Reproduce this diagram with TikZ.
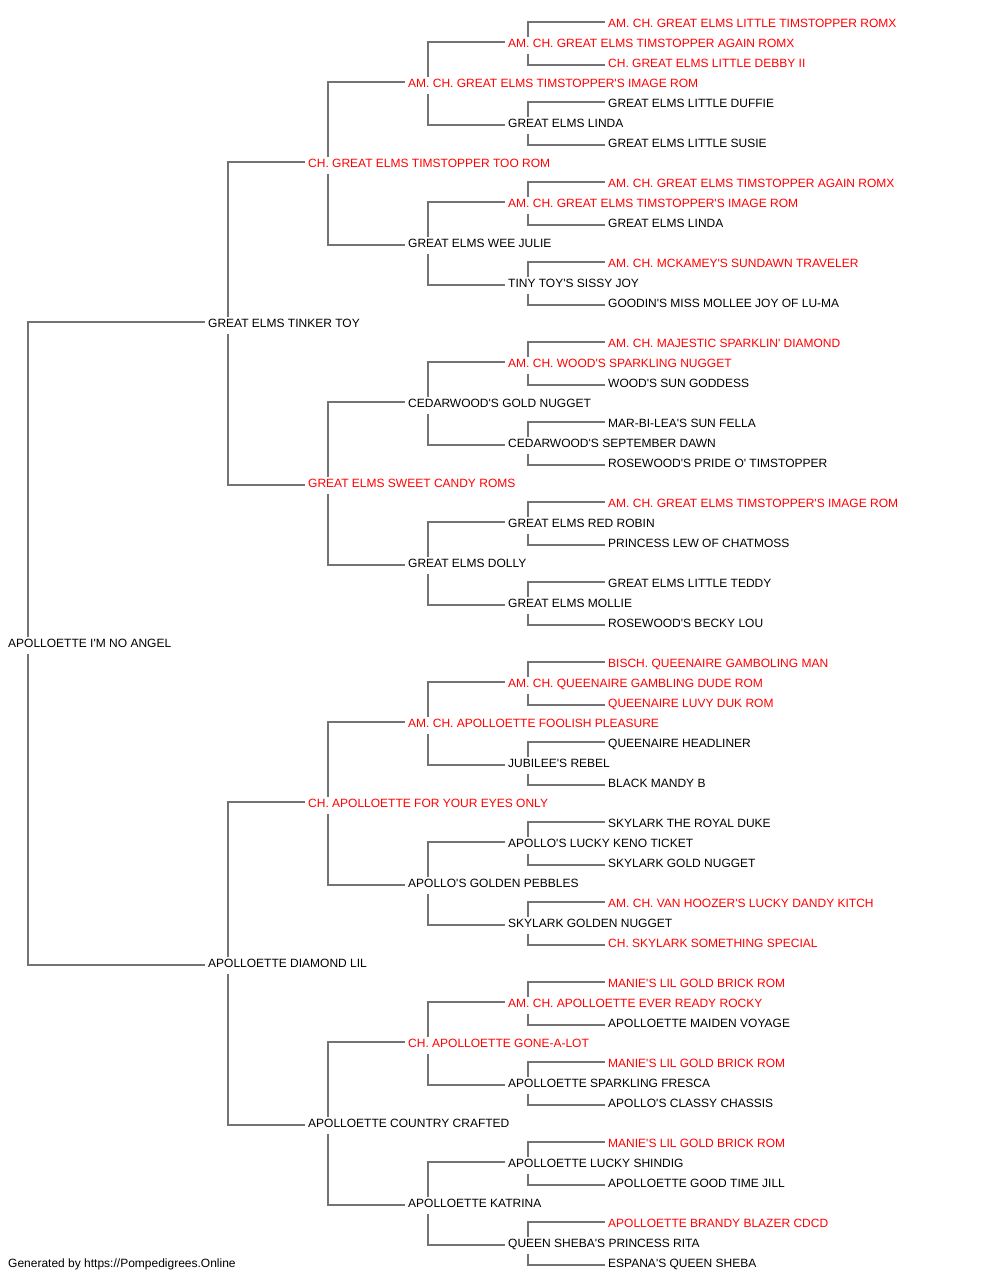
\documentclass[tikz,border=0pt]{standalone}
\usepackage{fontspec}
\setmainfont{Liberation Sans}[Ligatures=TeXOff]
\usetikzlibrary{backgrounds}
\definecolor{linegray}{HTML}{737373}
\definecolor{champ}{HTML}{FF0000}
\definecolor{plain}{HTML}{000000}
\tikzset{
  dog/.style={anchor=base west, inner xsep=3pt, inner ysep=2pt, text height=9pt, text depth=4pt, fill=white, text=plain, font=\fontsize{12pt}{14pt}\selectfont},
  red/.style={dog, text=champ},
  conn/.style={draw=linegray, line width=1.6pt},
}
\begin{document}
\begin{tikzpicture}[x=1pt, y=-1pt]
\useasboundingbox (0,0) rectangle (1000,1280);
% generation x (text start - 3): 5, 205, 305, 405, 505, 605 ; y = 27.6 + 20k
\node[red] (n0) at (605,27.6) {AM. CH. GREAT ELMS LITTLE TIMSTOPPER ROMX};
\node[red] (n1) at (505,47.6) {AM. CH. GREAT ELMS TIMSTOPPER AGAIN ROMX};
\node[red] (n2) at (605,67.6) {CH. GREAT ELMS LITTLE DEBBY II};
\node[red] (n3) at (405,87.6) {AM. CH. GREAT ELMS TIMSTOPPER'S IMAGE ROM};
\node[dog] (n4) at (605,107.6) {GREAT ELMS LITTLE DUFFIE};
\node[dog] (n5) at (505,127.6) {GREAT ELMS LINDA};
\node[dog] (n6) at (605,147.6) {GREAT ELMS LITTLE SUSIE};
\node[red] (n7) at (305,167.6) {CH. GREAT ELMS TIMSTOPPER TOO ROM};
\node[red] (n8) at (605,187.6) {AM. CH. GREAT ELMS TIMSTOPPER AGAIN ROMX};
\node[red] (n9) at (505,207.6) {AM. CH. GREAT ELMS TIMSTOPPER'S IMAGE ROM};
\node[dog] (n10) at (605,227.6) {GREAT ELMS LINDA};
\node[dog] (n11) at (405,247.6) {GREAT ELMS WEE JULIE};
\node[red] (n12) at (605,267.6) {AM. CH. MCKAMEY'S SUNDAWN TRAVELER};
\node[dog] (n13) at (505,287.6) {TINY TOY'S SISSY JOY};
\node[dog] (n14) at (605,307.6) {GOODIN'S MISS MOLLEE JOY OF LU-MA};
\node[dog] (n15) at (205,327.6) {GREAT ELMS TINKER TOY};
\node[red] (n16) at (605,347.6) {AM. CH. MAJESTIC SPARKLIN' DIAMOND};
\node[red] (n17) at (505,367.6) {AM. CH. WOOD'S SPARKLING NUGGET};
\node[dog] (n18) at (605,387.6) {WOOD'S SUN GODDESS};
\node[dog] (n19) at (405,407.6) {CEDARWOOD'S GOLD NUGGET};
\node[dog] (n20) at (605,427.6) {MAR-BI-LEA'S SUN FELLA};
\node[dog] (n21) at (505,447.6) {CEDARWOOD'S SEPTEMBER DAWN};
\node[dog] (n22) at (605,467.6) {ROSEWOOD'S PRIDE O' TIMSTOPPER};
\node[red] (n23) at (305,487.6) {GREAT ELMS SWEET CANDY ROMS};
\node[red] (n24) at (605,507.6) {AM. CH. GREAT ELMS TIMSTOPPER'S IMAGE ROM};
\node[dog] (n25) at (505,527.6) {GREAT ELMS RED ROBIN};
\node[dog] (n26) at (605,547.6) {PRINCESS LEW OF CHATMOSS};
\node[dog] (n27) at (405,567.6) {GREAT ELMS DOLLY};
\node[dog] (n28) at (605,587.6) {GREAT ELMS LITTLE TEDDY};
\node[dog] (n29) at (505,607.6) {GREAT ELMS MOLLIE};
\node[dog] (n30) at (605,627.6) {ROSEWOOD'S BECKY LOU};
\node[dog] (n31) at (5,647.6) {APOLLOETTE I'M NO ANGEL};
\node[red] (n32) at (605,667.6) {BISCH. QUEENAIRE GAMBOLING MAN};
\node[red] (n33) at (505,687.6) {AM. CH. QUEENAIRE GAMBLING DUDE ROM};
\node[red] (n34) at (605,707.6) {QUEENAIRE LUVY DUK ROM};
\node[red] (n35) at (405,727.6) {AM. CH. APOLLOETTE FOOLISH PLEASURE};
\node[dog] (n36) at (605,747.6) {QUEENAIRE HEADLINER};
\node[dog] (n37) at (505,767.6) {JUBILEE'S REBEL};
\node[dog] (n38) at (605,787.6) {BLACK MANDY B};
\node[red] (n39) at (305,807.6) {CH. APOLLOETTE FOR YOUR EYES ONLY};
\node[dog] (n40) at (605,827.6) {SKYLARK THE ROYAL DUKE};
\node[dog] (n41) at (505,847.6) {APOLLO'S LUCKY KENO TICKET};
\node[dog] (n42) at (605,867.6) {SKYLARK GOLD NUGGET};
\node[dog] (n43) at (405,887.6) {APOLLO'S GOLDEN PEBBLES};
\node[red] (n44) at (605,907.6) {AM. CH. VAN HOOZER'S LUCKY DANDY KITCH};
\node[dog] (n45) at (505,927.6) {SKYLARK GOLDEN NUGGET};
\node[red] (n46) at (605,947.6) {CH. SKYLARK SOMETHING SPECIAL};
\node[dog] (n47) at (205,967.6) {APOLLOETTE DIAMOND LIL};
\node[red] (n48) at (605,987.6) {MANIE'S LIL GOLD BRICK ROM};
\node[red] (n49) at (505,1007.6) {AM. CH. APOLLOETTE EVER READY ROCKY};
\node[dog] (n50) at (605,1027.6) {APOLLOETTE MAIDEN VOYAGE};
\node[red] (n51) at (405,1047.6) {CH. APOLLOETTE GONE-A-LOT};
\node[red] (n52) at (605,1067.6) {MANIE'S LIL GOLD BRICK ROM};
\node[dog] (n53) at (505,1087.6) {APOLLOETTE SPARKLING FRESCA};
\node[dog] (n54) at (605,1107.6) {APOLLO'S CLASSY CHASSIS};
\node[dog] (n55) at (305,1127.6) {APOLLOETTE COUNTRY CRAFTED};
\node[red] (n56) at (605,1147.6) {MANIE'S LIL GOLD BRICK ROM};
\node[dog] (n57) at (505,1167.6) {APOLLOETTE LUCKY SHINDIG};
\node[dog] (n58) at (605,1187.6) {APOLLOETTE GOOD TIME JILL};
\node[dog] (n59) at (405,1207.6) {APOLLOETTE KATRINA};
\node[red] (n60) at (605,1227.6) {APOLLOETTE BRANDY BLAZER CDCD};
\node[dog] (n61) at (505,1247.6) {QUEEN SHEBA'S PRINCESS RITA};
\node[dog] (n62) at (605,1267.6) {ESPANA'S QUEEN SHEBA};
\node[dog, fill=none] (footer) at (5,1267.6) {Generated by https://Pompedigrees.Online};
\begin{pgfonlayer}{background}
\foreach \p/\d in {31/16, 15/8, 47/8, 7/4, 23/4, 39/4, 55/4,
  3/2, 11/2, 19/2, 27/2, 35/2, 43/2, 51/2, 59/2,
  1/1, 5/1, 9/1, 13/1, 17/1, 21/1, 25/1, 29/1, 33/1, 37/1, 41/1, 45/1, 49/1, 53/1, 57/1, 61/1}{
  \pgfmathtruncatemacro\s{\p-\d}
  \pgfmathtruncatemacro\e{\p+\d}
  \draw[conn] ([yshift=3.1pt]n\s.west) -| ([xshift=23pt]n\p.west) |- ([yshift=0.1pt]n\e.west);
}
\end{pgfonlayer}
\end{tikzpicture}
\end{document}
